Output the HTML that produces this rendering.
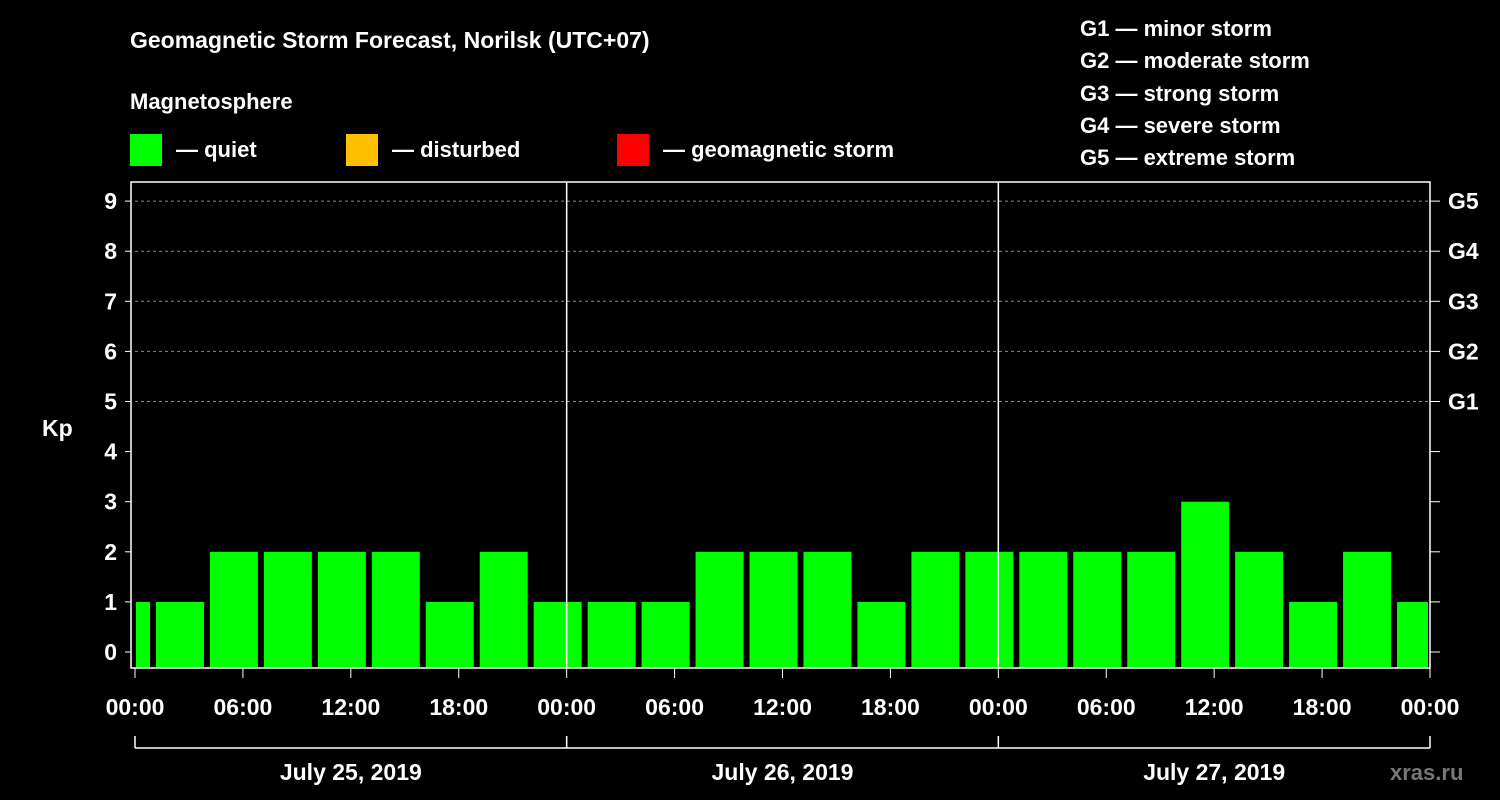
<!DOCTYPE html>
<html><head><meta charset="utf-8"><style>
body{margin:0;background:#000;}
svg{display:block;font-family:"Liberation Sans",Arial,sans-serif;font-weight:bold;}
</style></head><body>
<svg width="1500" height="800">
<rect width="1500" height="800" fill="#000"/>
<text x="130" y="48" fill="#fff" font-size="23">Geomagnetic Storm Forecast, Norilsk (UTC+07)</text>
<text x="130" y="109" fill="#fff" font-size="22">Magnetosphere</text>
<g font-size="22" fill="#fff">
<rect x="130" y="134" width="32" height="32" fill="#00ff00"/>
<text x="176" y="157">— quiet</text>
<rect x="346" y="134" width="32" height="32" fill="#ffbf00"/>
<text x="392" y="157">— disturbed</text>
<rect x="617" y="134" width="32" height="32" fill="#ff0000"/>
<text x="663" y="157">— geomagnetic storm</text>
</g>
<g font-size="22" fill="#fff">
<text x="1080" y="36">G1 — minor storm</text>
<text x="1080" y="68">G2 — moderate storm</text>
<text x="1080" y="101">G3 — strong storm</text>
<text x="1080" y="133">G4 — severe storm</text>
<text x="1080" y="165">G5 — extreme storm</text>
</g>
<text x="42" y="436" fill="#fff" font-size="23">Kp</text>
<text x="1390" y="780" fill="#777" font-size="22">xras.ru</text>
<g id="grid"></g><g id="bars"></g><g id="axes"></g>
</svg>
<script>
const kpValues=[1,1,2,2,2,2,1,2,1,1,1,2,2,2,1,2,2,2,2,2,3,2,1,2,1];
const slotStartHours=[-2,1,4,7,10,13,16,19,22,25,28,31,34,37,40,43,46,49,52,55,58,61,64,67,70];
const yTicks=[0,1,2,3,4,5,6,7,8,9];
const gLabels=[[5,"G1"],[6,"G2"],[7,"G3"],[8,"G4"],[9,"G5"]];
const xTickLabels=["00:00","06:00","12:00","18:00","00:00","06:00","12:00","18:00","00:00","06:00","12:00","18:00","00:00"];
const dayLabels=["July 25, 2019","July 26, 2019","July 27, 2019"];
const NS="http://www.w3.org/2000/svg";
const X0=135,X1=1430,HOURS=72,Y0=652,YU=50.1,TOP=182,BOT=668;
const xs=h=>X0+(X1-X0)*h/HOURS, ys=v=>Y0-v*YU;
function mk(t,a,p){const e=document.createElementNS(NS,t);for(const k in a)e.setAttribute(k,a[k]);p.appendChild(e);return e;}
const grid=document.getElementById('grid'),bars=document.getElementById('bars'),axes=document.getElementById('axes');
gLabels.forEach(([v,l])=>{
 const ln=mk('line',{x1:X0,x2:X1,y1:ys(v),y2:ys(v),stroke:'#888','stroke-dasharray':'3,3','stroke-width':1},grid);
 
 
 const t=mk('text',{x:1448,y:ys(v)+8,fill:'#fff','font-size':23},axes);t.textContent=l;
 
 
});
kpValues.forEach((v,i)=>{
 let a=xs(slotStartHours[i])+3,b=xs(slotStartHours[i]+3)-3;
 a=Math.max(a,X0+1);b=Math.min(b,X1-2);
 const r=mk('rect',{x:a,y:ys(v),width:b-a,height:BOT-ys(v),fill:'#00ff00'},bars);
 
 
});
mk('rect',{x:X0-4,y:TOP,width:X1-X0+4,height:BOT-TOP,fill:'none',stroke:'#fff','stroke-width':1.5},axes);
[24,48].forEach(h=>{mk('line',{x1:xs(h),x2:xs(h),y1:TOP,y2:BOT,stroke:'#fff','stroke-width':1.5},axes);});
yTicks.forEach(v=>{
 mk('line',{x1:X0-10,x2:X0-4,y1:ys(v),y2:ys(v),stroke:'#fff'},axes);
 mk('line',{x1:X1,x2:X1+10,y1:ys(v),y2:ys(v),stroke:'#fff'},axes);
 const t=mk('text',{x:117,y:ys(v)+8,fill:'#fff','font-size':23,'text-anchor':'end'},axes);t.textContent=v;
 
 
});
xTickLabels.forEach((l,i)=>{
 const x=xs(i*6);
 mk('line',{x1:x,x2:x,y1:BOT,y2:BOT+10,stroke:'#fff'},axes);
 const t=mk('text',{x:x,y:715,fill:'#fff','font-size':23,'text-anchor':'middle'},axes);t.textContent=l;
 
 
});
mk('line',{x1:X0,x2:X1,y1:748,y2:748,stroke:'#fff','stroke-width':1.5},axes);
[0,24,48,72].forEach(h=>mk('line',{x1:xs(h),x2:xs(h),y1:736,y2:748,stroke:'#fff','stroke-width':1.5},axes));
dayLabels.forEach((l,i)=>{
 const t=mk('text',{x:xs(i*24+12),y:780,fill:'#fff','font-size':23,'text-anchor':'middle'},axes);t.textContent=l;
 
 
});
</script>
</body></html>
